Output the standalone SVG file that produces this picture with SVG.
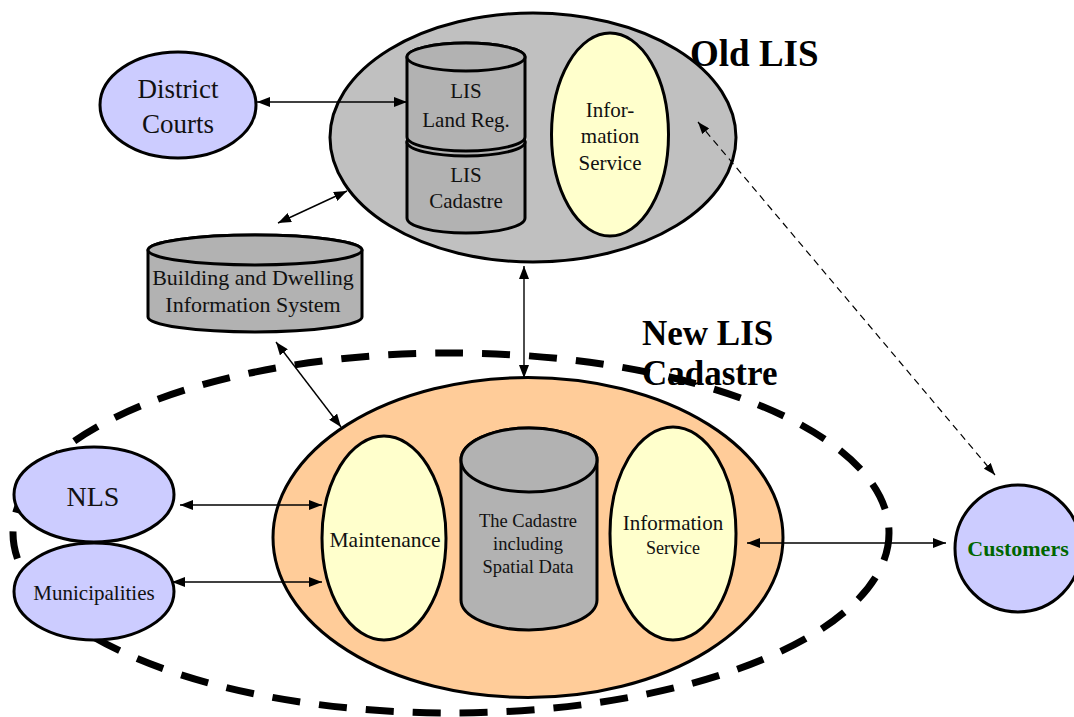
<svg xmlns="http://www.w3.org/2000/svg" width="1074" height="717" viewBox="0 0 1074 717">
<defs>
<style>
.t{font-family:"Liberation Serif","Times New Roman",serif;fill:#111;text-anchor:middle}
.b{font-family:"Liberation Serif","Times New Roman",serif;font-weight:bold;fill:#000}
.node{stroke:#000;stroke-width:3}
.gray{fill:#c0c0c0}
.cyl{fill:#b2b2b2}
.yel{fill:#ffffcc}
.pur{fill:#ccccff}
.ora{fill:#ffcc99}
.con{stroke:#000;stroke-width:1.4;fill:none;marker-start:url(#ah);marker-end:url(#ah)}
.dcon{stroke:#000;stroke-width:1.2;fill:none;stroke-dasharray:7 5;marker-start:url(#ahs);marker-end:url(#ahs)}
</style>
<marker id="ah" markerUnits="userSpaceOnUse" markerWidth="13" markerHeight="10" refX="13" refY="5" orient="auto-start-reverse">
<path d="M0,0 L13,5 L0,10 z" fill="#000"/>
</marker>
<marker id="ahs" markerUnits="userSpaceOnUse" markerWidth="12" markerHeight="9" refX="12" refY="4.5" orient="auto-start-reverse">
<path d="M0,0 L12,4.5 L0,9 z" fill="#000"/>
</marker>
</defs>
<rect width="1074" height="717" fill="#fff"/>

<g id="new-lis-boundary">
<ellipse cx="451" cy="533" rx="438" ry="180" fill="none" stroke="#000" stroke-width="7" stroke-dasharray="28 19"/>
</g>

<g id="old-lis">
<ellipse class="node gray" cx="533" cy="137.5" rx="203" ry="124.5"/>
<text class="b" x="690" y="66" font-size="37">Old LIS</text>
</g>

<g id="lis-cadastre">
<path class="node cyl" d="M407,142 V218 A59,15 0 0 0 525,218 V142 A59,14 0 0 0 407,142 Z"/>
<ellipse class="node cyl" cx="466" cy="142" rx="59" ry="14"/>
<text class="t" x="466" y="182" font-size="21">LIS</text>
<text class="t" x="466" y="208" font-size="21">Cadastre</text>
</g>

<g id="lis-land-reg">
<path class="node cyl" d="M407,57 V137 A59,14 0 0 0 525,137 V57 A59,14 0 0 0 407,57 Z"/>
<ellipse class="node cyl" cx="466" cy="57" rx="59" ry="14"/>
<text class="t" x="466" y="98" font-size="21">LIS</text>
<text class="t" x="466" y="127" font-size="21">Land Reg.</text>
</g>

<g id="old-info-service">
<ellipse class="node yel" cx="610" cy="134.5" rx="58.5" ry="101.5"/>
<text class="t" x="610" y="117" font-size="21">Infor-</text>
<text class="t" x="610" y="143" font-size="21">mation</text>
<text class="t" x="610" y="170" font-size="21">Service</text>
</g>

<g id="district-courts">
<ellipse class="node pur" cx="178" cy="105" rx="78" ry="53"/>
<text class="t" x="178" y="98" font-size="27">District</text>
<text class="t" x="178" y="133" font-size="27">Courts</text>
</g>

<g id="building-dwelling">
<path class="node cyl" d="M148,250 V317 A107,15 0 0 0 362,317 V250 A107,15 0 0 0 148,250 Z"/>
<ellipse class="node cyl" cx="255" cy="250" rx="107" ry="15"/>
<text class="t" x="253" y="285" font-size="22">Building and Dwelling</text>
<text class="t" x="253" y="312" font-size="22">Information System</text>
</g>

<g id="new-lis">
<ellipse class="node ora" cx="528" cy="537.5" rx="255" ry="160"/>
<text class="b" x="642" y="345" font-size="35">New LIS</text>
<text class="b" x="642" y="385" font-size="35">Cadastre</text>
</g>

<g id="maintenance">
<ellipse class="node yel" cx="384" cy="538" rx="62" ry="102"/>
<text class="t" x="385" y="547" font-size="21.5">Maintenance</text>
</g>

<g id="cadastre-db">
<path class="node cyl" d="M461,460 V600 A68,30 0 0 0 597,600 V460 A68,32 0 0 0 461,460 Z"/>
<ellipse class="node cyl" cx="529" cy="460" rx="68" ry="32"/>
<text class="t" x="528" y="527" font-size="18.5" fill="#222">The Cadastre</text>
<text class="t" x="528" y="550" font-size="18.5" fill="#222">including</text>
<text class="t" x="528" y="573" font-size="18.5" fill="#222">Spatial Data</text>
</g>

<g id="new-info-service">
<ellipse class="node yel" cx="673" cy="533.5" rx="63" ry="106.5"/>
<text class="t" x="673" y="530" font-size="21">Information</text>
<text class="t" x="673" y="554" font-size="18">Service</text>
</g>

<g id="nls">
<ellipse class="node pur" cx="94" cy="494.5" rx="80" ry="47.5"/>
<text class="t" x="93" y="506" font-size="28">NLS</text>
</g>

<g id="municipalities">
<ellipse class="node pur" cx="94" cy="591.5" rx="80" ry="48.5"/>
<text class="t" x="94" y="600" font-size="21">Municipalities</text>
</g>

<g id="customers">
<ellipse class="node pur" cx="1018" cy="548.5" rx="63" ry="63.5"/>
<text class="b" x="1018" y="556" font-size="22" text-anchor="middle" style="fill:#006600">Customers</text>
</g>

<g id="connectors">
<line class="con" x1="257" y1="102" x2="407" y2="102"/>
<line class="con" x1="278" y1="223" x2="347" y2="191"/>
<line class="con" x1="524" y1="266" x2="524" y2="378"/>
<line class="con" x1="276" y1="342" x2="341" y2="427"/>
<line class="con" x1="180" y1="505" x2="322" y2="505"/>
<line class="con" x1="172" y1="582" x2="322" y2="582"/>
<line class="con" x1="747" y1="543" x2="946" y2="543"/>
<line class="dcon" x1="698" y1="122" x2="995" y2="475"/>
</g>
</svg>
